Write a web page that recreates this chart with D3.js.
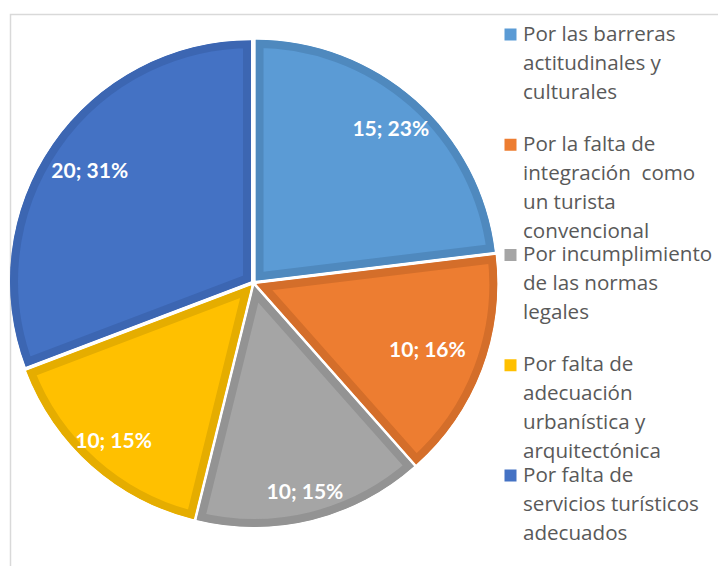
<!DOCTYPE html>
<html><head><meta charset="utf-8">
<script src="https://cdn.jsdelivr.net/npm/d3@7"></script>
<style>body{margin:0;background:#fff}svg{display:block}</style>
</head><body>
<svg id="c" width="718" height="566"></svg>
<script>
const categories = [
  ["Por las barreras", "actitudinales y", "culturales"],
  ["Por la falta de", "integración  como", "un turista", "convencional"],
  ["Por incumplimiento", "de las normas", "legales"],
  ["Por falta de", "adecuación", "urbanística y", "arquitectónica"],
  ["Por falta de", "servicios turísticos", "adecuados"]
];
const values = [15, 10, 10, 10, 20];
const percentLabels = ["23%", "16%", "15%", "15%", "31%"];
const fills = ["#5B9BD5", "#ED7D31", "#A5A5A5", "#FFC000", "#4472C4"];
const borders = ["#4F89BE", "#D46E2A", "#939393", "#E5AD00", "#3C66B2"];
// layout: label distance from centre for each slice (Excel best-fit)
const labelRadii = [204, 183, 212, 208, 196];

const svg = d3.select("#c");
svg.append("rect").attr("x", 10.5).attr("y", 14.5).attr("width", 720).attr("height", 560)
  .attr("fill", "#fff").attr("stroke", "#D9D9D9").attr("stroke-width", 1.5);

const cx = 253.5, cy = 283, r = 241, explode = 3;
const pie = d3.pie().sort(null).value(d => d)(values);
const arc = d3.arc().innerRadius(0).outerRadius(r);

const g = svg.append("g").attr("transform", `translate(${cx},${cy})`);
const defs = svg.append("defs");
pie.forEach((p, i) => {
  const mid = (p.startAngle + p.endAngle) / 2;
  const ox = Math.sin(mid) * explode, oy = -Math.cos(mid) * explode;
  const id = "clip" + i;
  defs.append("clipPath").attr("id", id).append("path").attr("d", arc(p));
  const sg = g.append("g").attr("transform", `translate(${ox},${oy})`);
  sg.append("path").attr("d", arc(p)).attr("fill", fills[i])
    .attr("stroke", borders[i]).attr("stroke-width", 16).attr("stroke-linejoin", "miter")
    .attr("clip-path", `url(#${id})`);
  const la = d3.arc().innerRadius(labelRadii[i]).outerRadius(labelRadii[i]);
  const [lx, ly] = la.centroid(p);
  sg.append("text").attr("x", lx).attr("y", ly).attr("dy", "0.36em")
    .attr("text-anchor", "middle").attr("fill", "#fff")
    .attr("font-family", "Lato, 'Open Sans', sans-serif").attr("font-weight", "bold")
    .attr("font-size", 21).text(values[i] + "; " + percentLabels[i]);
});

const ly = d3.scaleLinear().domain([0, 4]).range([34.5, 475.5]);
const lg = svg.append("g");
categories.forEach((lines, i) => {
  const y0 = ly(i);
  lg.append("rect").attr("x", 504.5).attr("y", y0 - 6).attr("width", 12).attr("height", 12).attr("fill", fills[i]);
  const t = lg.append("text").attr("fill", "#595959").style("white-space", "pre")
    .attr("font-family", "'Open Sans', sans-serif").attr("font-size", 20.6);
  lines.forEach((s, j) => t.append("tspan").attr("x", 523).attr("y", y0 + 6.2 + j * 28.9).text(s));
});
</script>
</body></html>
